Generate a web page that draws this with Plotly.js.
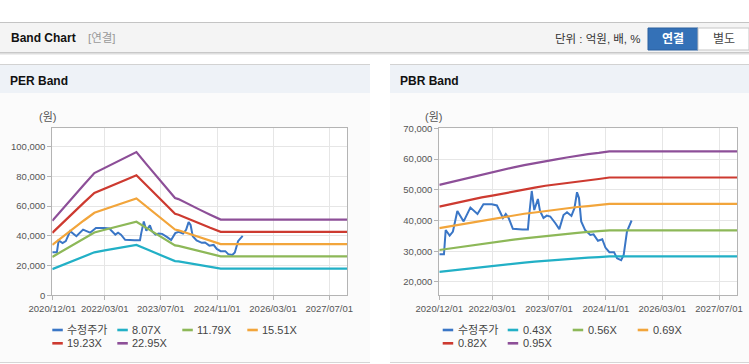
<!DOCTYPE html>
<html><head><meta charset="utf-8">
<script src="https://cdn.plot.ly/plotly-3.0.1.min.js"></script>
<style>html,body{margin:0;padding:0;background:#fff;}#chart{width:749px;height:364px;}</style>
</head><body><div id="chart"></div>
<script>
// ---------- data ----------
const xTickLabels = ['2020/12/01','2022/03/01','2023/07/01','2024/11/01','2026/03/01','2027/07/01'];
const xRange = ['2020-12-01','2027-12-05'];
const perYTicks = [0,20000,40000,60000,80000,100000];
const pbrYTicks = [20000,30000,40000,50000,60000,70000];

const priceName = '수정주가';
const priceDates = ['2020-12-01','2021-01-10','2021-01-25','2021-02-28','2021-03-28','2021-05-05','2021-06-28','2021-08-25','2021-10-25','2021-12-15','2022-02-25','2022-04-10','2022-06-01','2022-06-25','2022-07-20','2022-08-25','2022-11-15','2023-01-01','2023-01-12','2023-02-03','2023-02-25','2023-03-28','2023-04-15','2023-05-15','2023-06-12','2023-07-12','2023-08-25','2023-09-28','2023-11-03','2023-12-03','2024-01-10','2024-02-05','2024-02-27','2024-03-15','2024-04-03','2024-05-06','2024-06-20','2024-07-18','2024-08-25','2024-10-01','2024-10-28','2024-12-01','2025-01-10','2025-02-05','2025-03-12','2025-04-03','2025-05-01','2025-06-10'];
const price = [29000,29000,36900,35100,36400,43100,39700,44200,42100,45300,45300,44900,40800,42100,40800,37300,37100,37100,41800,49600,43400,47000,43100,40800,41600,41300,39100,37200,41800,42700,41500,44000,49200,47300,39700,36900,35300,35500,33400,33900,31200,29700,29700,27700,27100,28800,36400,40000];

const perBandDates = ['2020-12-01','2021-03-01','2021-06-01','2021-09-01','2021-12-01','2022-03-01','2022-06-01','2022-09-01','2022-12-01','2023-03-01','2023-06-01','2023-09-01','2023-11-01','2023-12-01','2024-03-01','2024-06-01','2024-09-01','2024-12-01','2027-12-05'];
const perNames = ['8.07X','11.79X','15.51X','19.23X','22.95X'];
const per807  = [17600,20500,23300,26100,28900,30200,31500,32600,33900,30900,27900,24900,23000,22800,21500,20300,19000,17900,17900];
const per1179 = [25800,29900,34100,38200,42200,44100,46000,47600,49500,45200,40800,36300,33600,33200,31400,29600,27800,26200,26200];
const per1551 = [33900,39400,44800,50300,55500,58000,60500,62700,65100,59400,53700,47800,44200,43700,41300,38900,36600,34400,34400];
const per1923 = [42000,48800,55600,62300,68800,71900,75000,77700,80700,73700,66500,59200,54800,54200,51200,48300,45400,42700,42700];
const per2295 = [50100,58300,66300,74400,82200,85800,89500,92700,96300,87900,79400,70700,65400,64700,61000,57600,54200,50900,50900];

const pbrBandDates = ['2020-12-01','2021-03-01','2021-06-01','2021-09-01','2021-12-01','2022-03-01','2022-06-01','2022-09-01','2022-12-01','2023-03-01','2023-06-01','2023-09-01','2023-12-01','2024-03-01','2024-06-01','2024-09-01','2024-12-01','2027-12-05'];
const pbrNames = ['0.43X','0.56X','0.69X','0.82X','0.95X'];
const pbr043 = [23300,23700,24100,24500,24900,25200,25600,25900,26300,26600,26900,27100,27400,27600,27900,28100,28300,28300];
const pbr056 = [30400,30900,31400,31900,32400,32900,33300,33800,34200,34600,35000,35300,35700,36000,36300,36600,36800,36800];
const pbr069 = [37500,38100,38700,39300,40000,40500,41100,41600,42200,42600,43100,43500,44000,44400,44700,45100,45400,45400];
const pbr082 = [44500,45300,46000,46700,47500,48100,48800,49400,50100,50700,51300,51700,52200,52700,53100,53500,54000,54000];
const pbr095 = [51600,52400,53300,54200,55000,55800,56500,57300,58000,58700,59400,59900,60500,61100,61600,62000,62500,62500];

// ---------- styling ----------
const W = 749, H = 364;
const priceColor = '#3a76c6';
const bandColors = ['#22b0c6','#8db858','#f2a53b','#cd3a30','#8d4f98'];
const FONT = 'Liberation Sans, Arial, Noto Sans CJK KR, sans-serif';
const px = x => x / W;
const py = y => 1 - y / H;

const perBands = [per807, per1179, per1551, per1923, per2295];
const pbrBands = [pbr043, pbr056, pbr069, pbr082, pbr095];

const traces = [];
function addSet(xa, ya, bandDates, bands, names) {
  traces.push({x: priceDates, y: price, name: priceName, type: 'scatter', mode: 'lines',
    line: {color: priceColor, width: 2}, xaxis: xa, yaxis: ya, showlegend: false, hoverinfo: 'skip'});
  bands.forEach((b, i) => traces.push({x: bandDates, y: b, name: names[i], type: 'scatter', mode: 'lines',
    line: {color: bandColors[i], width: 2.2}, xaxis: xa, yaxis: ya, showlegend: false, hoverinfo: 'skip'}));
}
addSet('x', 'y', perBandDates, perBands, perNames);
addSet('x2', 'y2', pbrBandDates, pbrBands, pbrNames);

const tickvals = xTickLabels.map(s => s.replace(/\//g, '-'));
const axisCommon = {showgrid: true, gridcolor: '#e6e6e6', gridwidth: 1, showline: true, linecolor: '#b4b4b4',
  linewidth: 1, mirror: true, ticks: 'outside', ticklen: 4, tickcolor: '#b4b4b4', zeroline: false,
  tickfont: {family: FONT, size: 9.5, color: '#555'}, fixedrange: true};
const xAx = (dom, anchor) => Object.assign({}, axisCommon, {domain: dom, anchor: anchor, type: 'date',
  range: xRange, tickmode: 'array', tickvals: tickvals, ticktext: xTickLabels});
const yDom = [py(295.3), py(128.3)];
const yAx = (anchor, range, tv) => Object.assign({}, axisCommon, {domain: yDom, anchor: anchor, range: range,
  tickmode: 'array', tickvals: tv, ticktext: tv.map(v => v.toLocaleString('en-US'))});

const shapes = [];
function rect(x0, y0, x1, y1, fill, line, layer) {
  shapes.push({type: 'rect', xref: 'paper', yref: 'paper', x0: px(x0), x1: px(x1), y0: py(y1), y1: py(y0),
    fillcolor: fill, line: line ? {color: line, width: 1} : {width: 0}, layer: layer || 'below'});
}
function hline(x0, x1, y, color, w) {
  shapes.push({type: 'line', xref: 'paper', yref: 'paper', x0: px(x0), x1: px(x1), y0: py(y), y1: py(y),
    line: {color: color, width: w || 1}, layer: 'below'});
}
// page header
rect(0, 22, 749, 52.5, '#f4f4f4');
hline(0, 749, 22.5, '#c4c4c4');
hline(0, 749, 52.5, '#c8c8c8');
hline(0, 749, 53.5, '#dedede');
hline(0, 749, 54.5, '#eeeeee');
// buttons
rect(648, 28, 698, 50, '#3471b7', '#2a619f');
rect(698, 28, 749, 50, '#ffffff', '#c6c6c6');
// panels
function panel(x0, x1) {
  rect(x0, 64, x1, 93, '#eef2f7');
  hline(x0, x1, 64.5, '#d2d2d2');
  rect(x0, 93, x1, 362, '#fbfbfb');
  hline(x0, x1, 362.5, '#d6d6d6');
}
panel(0, 370);
panel(390, 749);
rect(52.3, 128.3, 347.3, 295.3, '#ffffff');
rect(439.3, 128.3, 737.3, 295.3, '#ffffff');

const annotations = [];
function txt(x, y, text, opts) {
  opts = opts || {};
  annotations.push({xref: 'paper', yref: 'paper', x: px(x), y: py(y), text: text, showarrow: false,
    xanchor: opts.anchor || 'left', yanchor: 'middle',
    font: {family: opts.family || FONT, size: opts.size || 12, color: opts.color || '#222'}});
}
txt(9, 38, '<b>Band Chart</b>', {size: 12, color: '#111'});
txt(86, 38, '[연결]', {size: 11.5, color: '#999'});
txt(643, 38.5, '단위 : 억원, 배, %', {size: 11.5, color: '#333', anchor: 'right'});
txt(673, 39, '<b>연결</b>', {size: 12, color: '#ffffff', anchor: 'center'});
txt(723.5, 39, '별도', {size: 12, color: '#444', anchor: 'center'});
txt(8, 80.5, '<b>PER Band</b>', {size: 12, color: '#111'});
txt(398, 80.5, '<b>PBR Band</b>', {size: 12, color: '#111'});
txt(47, 117, '(원)', {size: 11, color: '#555', anchor: 'center'});
txt(434, 117, '(원)', {size: 11, color: '#555', anchor: 'center'});

// legends built from the series names and colors
function legend(x0, names, colors) {
  const cols = [0, 65, 130, 195];
  names.forEach((n, i) => {
    const r = Math.floor(i / 4), c = i % 4;
    const lx = x0 + cols[c], ly = 330 + r * 13.3;
    shapes.push({type: 'line', xref: 'paper', yref: 'paper', x0: px(lx), x1: px(lx + 10.5), y0: py(ly), y1: py(ly),
      line: {color: colors[i], width: 2.6}, layer: 'above'});
    txt(lx + 13, ly, n, {size: 11, color: '#444'});
  });
}
legend(52.3, [priceName].concat(perNames), [priceColor].concat(bandColors));
legend(442.7, [priceName].concat(pbrNames), [priceColor].concat(bandColors));

const layout = {
  width: W, height: H, margin: {l: 0, r: 0, t: 0, b: 0, pad: 0},
  paper_bgcolor: '#ffffff', plot_bgcolor: '#ffffff', showlegend: false,
  xaxis: xAx([px(52.3), px(347.3)], 'y'),
  yaxis: yAx('x', [0, 112300], perYTicks),
  xaxis2: xAx([px(439.3), px(737.3)], 'y2'),
  yaxis2: yAx('x2', [15665, 70000], pbrYTicks),
  shapes: shapes, annotations: annotations, font: {family: FONT}
};
Plotly.newPlot('chart', traces, layout, {staticPlot: true, displayModeBar: false});
</script></body></html>
